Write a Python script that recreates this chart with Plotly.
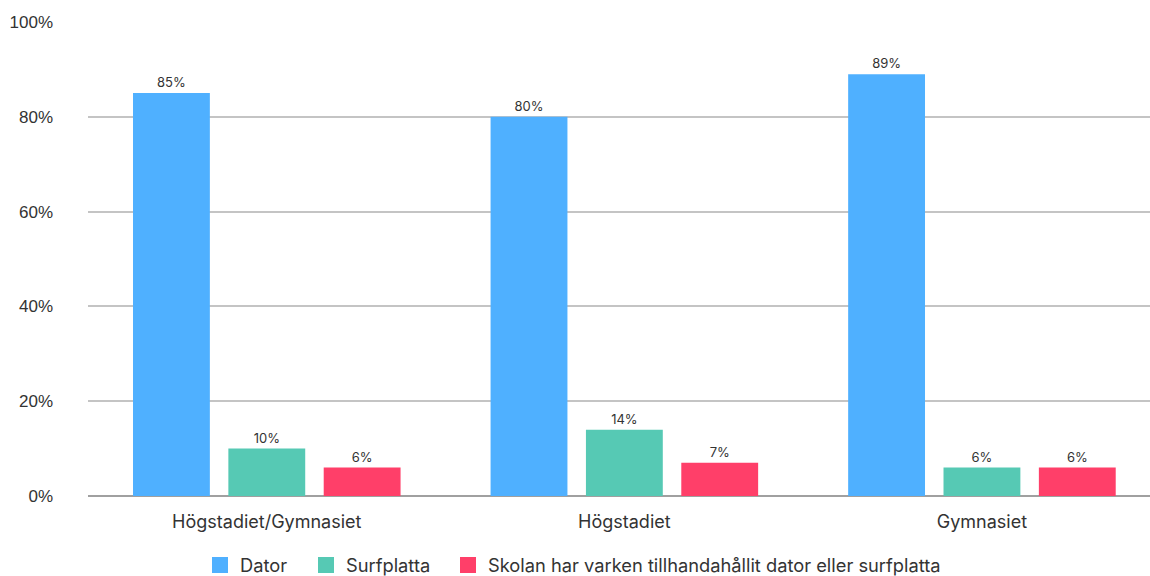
import plotly.graph_objects as go

categories = ["Högstadiet/Gymnasiet", "Högstadiet", "Gymnasiet"]
series_names = ["Dator", "Surfplatta", "Skolan har varken tillhandahållit dator eller surfplatta"]
dator = [85, 80, 89]
surfplatta = [10, 14, 6]
varken = [6, 7, 6]
colors = ["#4FB0FF", "#56C9B4", "#FF3F69"]
y_ticks = [0, 20, 40, 60, 80, 100]
y_tick_labels = ["0%", "20%", "40%", "60%", "80%", "100%"]

# left edges (container px) of each legend entry
legend_left_px = [200, 306, 448]
legend_ids = ["legend", "legend2", "legend3"]

fig = go.Figure()
for name, vals, col in zip(series_names, [dator, surfplatta, varken], colors):
    fig.add_trace(go.Bar(
        x=categories, y=vals, name=name, marker=dict(color=col, line=dict(width=0)),
        text=[f"{v}%" for v in vals], textposition="outside",
        textfont=dict(family="Inter", size=13, color="#333333"),
        cliponaxis=False, showlegend=False,
    ))
# legend entries with larger square swatches
for name, col, lid in zip(series_names, colors, legend_ids):
    fig.add_trace(go.Scatter(
        x=[None], y=[None], mode="markers", name=name, legend=lid,
        marker=dict(symbol="square", size=16, color=col),
    ))

legend_style = dict(orientation="h", xanchor="left", xref="container",
                    yref="paper", y=-0.146, yanchor="middle",
                    font=dict(family="Inter", size=18.3, color="#333333"),
                    itemwidth=30, bgcolor="rgba(0,0,0,0)")
legends = {lid: dict(legend_style, x=px / 1150) for lid, px in zip(legend_ids, legend_left_px)}

fig.update_layout(
    width=1150, height=576,
    margin=dict(l=88, r=0, t=22, b=80, autoexpand=False),
    paper_bgcolor="white", plot_bgcolor="white",
    barmode="group", bargap=0.2, bargroupgap=0.194,
    font=dict(family="Inter", color="#333333"),
    xaxis=dict(range=[-0.5, 2.47], showgrid=False, showline=False, ticks="",
               automargin=False, ticklabelstandoff=13,
               tickfont=dict(family="Inter", size=18, color="#333333")),
    yaxis=dict(range=[0, 100], tickvals=y_ticks, ticktext=y_tick_labels,
               showgrid=True, gridcolor="#C4C4C4", gridwidth=1.5,
               zeroline=True, zerolinecolor="#A0A0A0", zerolinewidth=1.5,
               automargin=False, ticklabelstandoff=34,
               tickfont=dict(family="Liberation Sans", size=17, color="#333333")),
    **legends,
)

fig.write_html(
    "out.html",
    config={"displayModeBar": False},
    post_script="document.body.style.margin='0';document.body.style.overflow='hidden';",
)
